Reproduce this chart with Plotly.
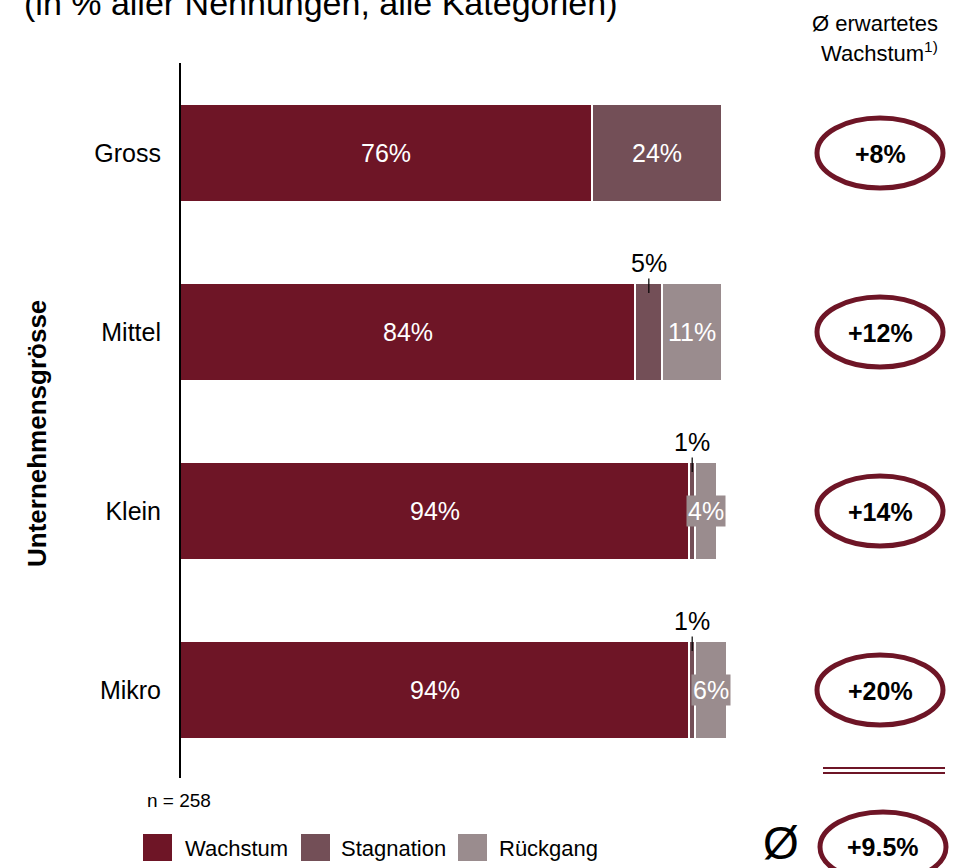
import plotly.graph_objects as go

# ---- data -----------------------------------------------------------------
categories = ["Gross", "Mittel", "Klein", "Mikro"]
series_names = ["Wachstum", "Stagnation", "Rückgang"]
wachstum = [76, 84, 94, 94]
stagnation = [24, 5, 1, 1]
rueckgang = [0, 11, 4, 6]
avg_growth = ["+8%", "+12%", "+14%", "+20%"]
avg_growth_total = "+9.5%"
sample_note = "n = 258"

colors = ["#6E1526", "#734F57", "#9A8C8E"]
series_values = [wachstum, stagnation, rueckgang]

W, H = 971, 868
ML = 180                      # left margin (px) -> x = 0
PX_PER_PCT = 5.42             # horizontal scale: 100 % = 542 px
ROW_PX = 179                  # vertical distance between rows (px)
BOTTOM_ROW_PX = 690           # pixel centre of the bottom row
BAR_W = 0.547

FONT = "Liberation Sans, Arial, sans-serif"
DARK = colors[0]

x_max = (W - ML) / PX_PER_PCT
y_top = BOTTOM_ROW_PX / ROW_PX
y_bot = (BOTTOM_ROW_PX - H) / ROW_PX


def pxx(px):
    """pixel x -> paper x"""
    return (px - ML) / (W - ML)


def pxy(py):
    """pixel y -> paper y"""
    return 1 - py / H


def note(px, py, text, size, xanchor="center", yanchor="middle", **kw):
    return dict(x=pxx(px), y=pxy(py), xref="paper", yref="paper", text=text,
                showarrow=False, xanchor=xanchor, yanchor=yanchor,
                font=dict(family=FONT, size=size, color="black"), **kw)


order = categories[::-1]      # bottom-to-top order on the category axis

fig = go.Figure()
for name, vals, col in zip(series_names, series_values, colors):
    fig.add_trace(go.Bar(
        y=categories, x=vals, name=name, orientation="h",
        width=BAR_W, marker=dict(color=col, line=dict(color="white", width=2)),
        showlegend=False, hoverinfo="x+y+name",
    ))

annotations = []
shapes = []

# segment value labels
for ci, cat in enumerate(categories):
    start = 0
    for si, vals in enumerate(series_values):
        v = vals[ci]
        if v <= 0:
            continue
        mid = start + v / 2
        label = f"{v}%"
        if v >= 10:
            annotations.append(dict(x=mid, y=cat, xref="x", yref="y", text=label,
                                    showarrow=False,
                                    font=dict(family=FONT, size=25, color="white")))
        elif si == 1:
            # small stagnation share: label above the bar with a leader tick
            annotations.append(dict(x=mid, y=order.index(cat) + BAR_W / 2 - 10 / ROW_PX,
                                    xref="x", yref="y", text=label,
                                    showarrow=True, arrowhead=0, arrowwidth=1.2,
                                    arrowcolor="black", ax=0, ay=-30,
                                    font=dict(family=FONT, size=25, color="black")))
        else:
            annotations.append(dict(x=mid, y=cat, xref="x", yref="y", text=label,
                                    showarrow=False, bgcolor=colors[2], borderpad=1,
                                    font=dict(family=FONT, size=25, color="white")))
        start += v

# vertical axis line
shapes.append(dict(type="line", xref="paper", yref="paper",
                   x0=pxx(180), x1=pxx(180), y0=pxy(63), y1=pxy(778),
                   line=dict(color="black", width=2), layer="above"))

# growth ellipses on the right
ell_cx, ell_rx, ell_ry = 880, 63, 35
for ci, cat in enumerate(categories):
    cy = BOTTOM_ROW_PX - order.index(cat) * ROW_PX
    shapes.append(dict(type="circle", xref="paper", yref="paper",
                       x0=pxx(ell_cx - ell_rx), x1=pxx(ell_cx + ell_rx),
                       y0=pxy(cy + ell_ry), y1=pxy(cy - ell_ry),
                       line=dict(color=DARK, width=5), fillcolor="white"))
    annotations.append(note(ell_cx, cy + 1, f"<b>{avg_growth[ci]}</b>", 25))

# double rule above the overall average
for yy in (768, 773):
    shapes.append(dict(type="line", xref="paper", yref="paper",
                       x0=pxx(823), x1=pxx(945), y0=pxy(yy), y1=pxy(yy),
                       line=dict(color=DARK, width=2)))

# overall average ellipse
tot_cx, tot_cy = 883, 847
shapes.append(dict(type="circle", xref="paper", yref="paper",
                   x0=pxx(tot_cx - ell_rx), x1=pxx(tot_cx + ell_rx),
                   y0=pxy(tot_cy + ell_ry), y1=pxy(tot_cy - ell_ry),
                   line=dict(color=DARK, width=5), fillcolor="white"))
annotations.append(note(tot_cx, tot_cy, f"<b>{avg_growth_total}</b>", 25))
annotations.append(note(781, 843, "Ø", 46))

# header of the right column
annotations.append(note(875, 23, "Ø erwartetes", 22))
annotations.append(note(879, 52, "Wachstum<sup>1)</sup>", 22))

# subtitle at the top (partly outside the canvas)
annotations.append(note(22, 24, "(in % aller Nennungen, alle Kategorien)", 34,
                        xanchor="left", yanchor="bottom"))

# axis title
annotations.append(note(37, 434, "<b>Unternehmensgrösse</b>", 26, textangle=-90))

# sample size
annotations.append(note(145, 800, sample_note, 19, xanchor="left"))

# legend
legend_boxes = [(143, 183), (301, 339), (458, 497)]
for (bx, tx), name, col in zip(legend_boxes, series_names, colors):
    shapes.append(dict(type="rect", xref="paper", yref="paper",
                       x0=pxx(bx), x1=pxx(bx + 29), y0=pxy(861), y1=pxy(834),
                       fillcolor=col, line=dict(width=0)))
    annotations.append(note(tx, 848, name, 22, xanchor="left"))

fig.update_layout(
    width=W, height=H, barmode="stack",
    margin=dict(l=ML, r=0, t=0, b=0),
    paper_bgcolor="white", plot_bgcolor="white",
    font=dict(family=FONT, color="black"),
    xaxis=dict(range=[0, x_max], visible=False, fixedrange=True),
    yaxis=dict(categoryorder="array", categoryarray=order, range=[y_bot, y_top],
               showgrid=False, zeroline=False, showline=False, ticks="",
               ticklabelstandoff=18, tickfont=dict(family=FONT, size=25, color="black"),
               fixedrange=True),
    annotations=annotations, shapes=shapes,
)

fig.write_html("out.html")
